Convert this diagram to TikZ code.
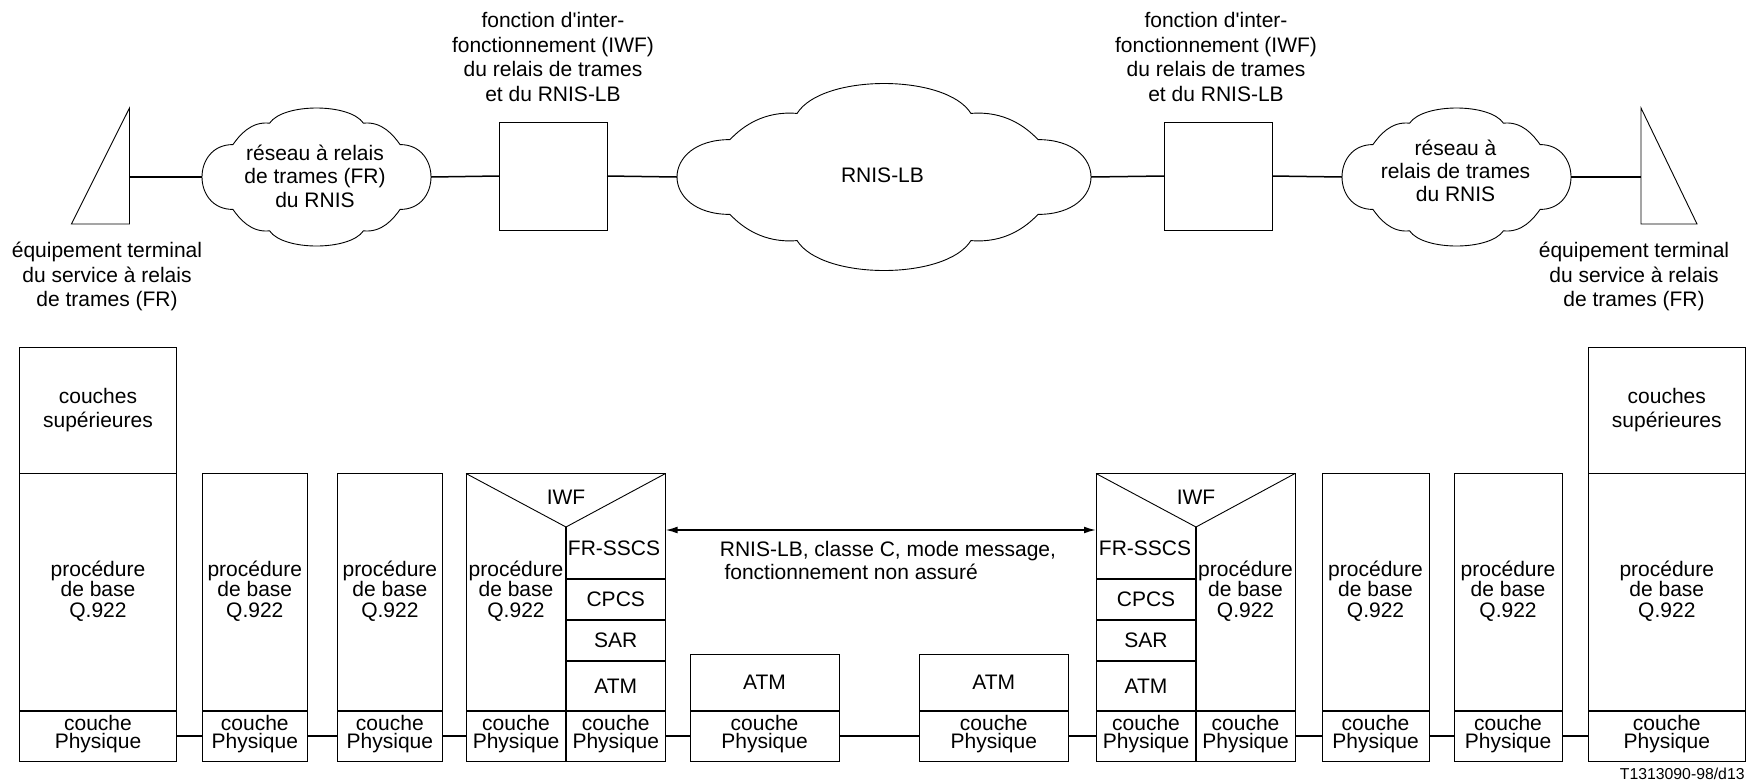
\documentclass[tikz,border=0pt]{standalone}
\usepackage{fontspec}
\setmainfont{Liberation Sans}[Ligatures=TeXOff]
\usetikzlibrary{arrows.meta}

% font sizes and line spacings
\newcommand\labfont{\fontsize{10.5}{12.2}\selectfont}
\newcommand\cloudfont{\fontsize{10.5}{11.9}\selectfont}
\newcommand\cloudfontb{\fontsize{10.5}{11.3}\selectfont}
\newcommand\cellfont{\fontsize{10.5}{10.25}\selectfont}
\newcommand\physfont{\fontsize{10.5}{8.8}\selectfont}
\newcommand\notefont{\fontsize{10.5}{11.7}\selectfont}
\newcommand\reffont{\fontsize{7.9}{9}\selectfont}

% invisible struts that lower a centred text block slightly
\newcommand\proclow{\rule[-3.3pt]{0pt}{0pt}}
\newcommand\physlow{\rule[-4.2pt]{0pt}{0pt}}
\newcommand\proctext{procédure\\de base\\Q.922\proclow}
\newcommand\phystext{couche\\Physique\physlow}

% \cellat{style}{name}{x1}{y1}{x2}{y2}{text}: rectangular layer cell, y measured downwards
\newcommand\cellat[7]{%
  \node[cell,#1,minimum width={(#5-#3)*0.5pt},minimum height={(#6-#4)*0.5pt}] (#2) at (#3,-#4) {#7};}

% \cloudoutline{cx}{cy}{a}{b}{p}{q}{r}{s}: cloud of half-width a, half-height b,
% outer notches at (+-p,+-q), inner notches at (+-r,+-s) in units of a and b
\newcommand\cloudoutline[8]{%
  \begin{scope}[shift={(#1,-#2)},xscale=#3,yscale=#4]
    \pgfmathsetmacro\cxb{(1-0.25*#5)/0.75}
    \pgfmathsetmacro\ycb{(1-0.25*#8)/0.75}
    \draw[thinline] (-#5,-#6)
      .. controls (-\cxb,-#6) and (-\cxb,#6) .. (-#5,#6)
      .. controls ({-#5+0.06},{#6+0.14}) and ({-#7-0.16},{#8+0.03}) .. (-#7,#8)
      .. controls ({-#7+0.12},\ycb) and ({#7-0.12},\ycb) .. (#7,#8)
      .. controls ({#7+0.16},{#8+0.03}) and ({#5-0.06},{#6+0.14}) .. (#5,#6)
      .. controls (\cxb,#6) and (\cxb,-#6) .. (#5,-#6)
      .. controls ({#5-0.06},{-#6-0.14}) and ({#7+0.16},{-#8-0.03}) .. (#7,-#8)
      .. controls ({#7-0.12},-\ycb) and ({-#7+0.12},-\ycb) .. (-#7,-#8)
      .. controls ({-#7-0.16},{-#8-0.03}) and ({-#5+0.06},{-#6-0.14}) .. (-#5,-#6)
      -- cycle;
  \end{scope}}

\tikzset{
  thinline/.style={line width=0.45pt},
  link/.style={line width=0.75pt},
  divider/.style={line width=0.8pt},
  cell/.style={draw,line width=0.45pt,rectangle,inner sep=1pt,outer sep=0pt,
    anchor=north west,align=center,font=\labfont},
  procsty/.style={font=\cellfont},
  physsty/.style={font=\physfont},
  hollow/.style={draw=none},
  lbl/.style={inner sep=0pt,align=center,font=\labfont},
  arr/.style={line width=0.75pt,{Latex[length=6pt,width=3.4pt]}-{Latex[length=6pt,width=3.4pt]}},
}

\begin{document}
\begin{tikzpicture}[x=0.5pt,y=0.5pt]
\fill[white] (0,0) rectangle (1749,-782);
\useasboundingbox (0,0) rectangle (1749,-782);

% ---------------- network view ----------------
% terminals
\draw[thinline] (129.5,-108) -- (129.5,-224) -- (71.4,-224) -- cycle;
\draw[thinline] (1641,-108) -- (1641,-224) -- (1697,-224) -- cycle;
\coordinate (termL) at (129.5,-177);
\coordinate (termR) at (1641,-177);
\node[lbl] (termLtxt) at (107,-276.8) {équipement terminal\\du service à relais\\de trames (FR)};
\node[lbl] (termRtxt) at (1634,-276.8) {équipement terminal\\du service à relais\\de trames (FR)};

% clouds
\cloudoutline{316.5}{177}{114.5}{69}{0.73}{0.47}{0.41}{0.78}
\cloudoutline{884}{177}{207}{93.5}{0.744}{0.40}{0.42}{0.68}
\cloudoutline{1456.5}{177}{114.5}{69}{0.73}{0.47}{0.41}{0.78}
\coordinate (cloudLw) at (202,-177);
\coordinate (cloudLe) at (431,-177);
\coordinate (cloudCw) at (677,-177);
\coordinate (cloudCe) at (1091,-177);
\coordinate (cloudRw) at (1342,-177);
\coordinate (cloudRe) at (1571,-177);
\node[lbl,font=\cloudfont] (cloudLtxt) at (315,-176.3) {réseau à relais\\de trames (FR)\\du RNIS};
\node[lbl,anchor=base] (cloudCtxt) at (882.5,-182.7) {RNIS-LB};
\node[lbl,font=\cloudfontb] (cloudRtxt) at (1455.5,-170.9) {réseau à\\relais de trames\\du RNIS};

% interworking functions
\node[draw,thinline,rectangle,inner sep=0pt,outer sep=0pt,minimum width=54pt,minimum height=54pt] (fnL) at (553,-176) {};
\node[draw,thinline,rectangle,inner sep=0pt,outer sep=0pt,minimum width=54pt,minimum height=54pt] (fnR) at (1218,-176) {};
\node[lbl] (fnLtxt) at (553,-57) {fonction d'inter-\\fonctionnement (IWF)\\du relais de trames\\et du RNIS-LB};
\node[lbl] (fnRtxt) at (1216,-57) {fonction d'inter-\\fonctionnement (IWF)\\du relais de trames\\et du RNIS-LB};

\draw[link] (termL) -- (cloudLw);
\draw[link] (cloudLe) -- (fnL.west);
\draw[link] (fnL.east) -- (cloudCw);
\draw[link] (cloudCe) -- (fnR.west);
\draw[link] (fnR.east) -- (cloudRw);
\draw[link] (cloudRe) -- (termR);

% ---------------- protocol stacks ----------------
% terminal stack, left
\cellat{}{b1a}{19.5}{347}{176.5}{473.5}{couches\\supérieures}
\cellat{procsty}{b1b}{19.5}{473.5}{176.5}{711}{\proctext}
\cellat{physsty}{b1c}{19.5}{711}{176.5}{761}{\phystext}
\draw[divider] (b1a.south west) -- (b1a.south east);
\draw[divider] (b1b.south west) -- (b1b.south east);

% frame relay nodes, left
\cellat{procsty}{b2b}{202.3}{473.5}{307.3}{711}{\proctext}
\cellat{physsty}{b2c}{202.3}{711}{307.3}{761}{\phystext}
\draw[divider] (b2b.south west) -- (b2b.south east);
\cellat{procsty}{b3b}{337.3}{473.5}{442.4}{711}{\proctext}
\cellat{physsty}{b3c}{337.3}{711}{442.4}{761}{\phystext}
\draw[divider] (b3b.south west) -- (b3b.south east);

% IWF stack, left
\cellat{}{iwfL}{466}{473.5}{665.5}{761}{}
\coordinate (vL) at (566,-527);
\cellat{procsty,hollow}{iwfLproc}{466}{473.5}{566}{711}{\proctext}
\node[lbl,anchor=base] (iwfLname) at (566,-504) {IWF};
\node[lbl,anchor=base] (iwfLsscs) at (614,-555) {FR-SSCS};
\cellat{hollow}{iwfLcpcs}{566}{579}{665.5}{620}{CPCS}
\cellat{hollow}{iwfLsar}{566}{620}{665.5}{661}{SAR}
\cellat{hollow}{iwfLatm}{566}{661}{665.5}{711}{ATM}
\cellat{physsty,hollow}{iwfLphA}{466}{711}{566}{761}{\phystext}
\cellat{physsty,hollow}{iwfLphB}{566}{711}{665.5}{761}{\phystext}
\draw[thinline] (iwfL.north west) -- (vL) -- (iwfL.north east);
\draw[divider] (vL) -- (iwfLphA.south east);
\draw[divider] (iwfLphA.north west) -- (iwfLphB.north east);
\draw[divider] (iwfLcpcs.north west) -- (iwfLcpcs.north east);
\draw[divider] (iwfLsar.north west) -- (iwfLsar.north east);
\draw[divider] (iwfLatm.north west) -- (iwfLatm.north east);

% ATM switches
\cellat{}{atm1a}{690}{654}{839}{711}{ATM}
\cellat{physsty}{atm1b}{690}{711}{839}{761}{\phystext}
\draw[divider] (atm1a.south west) -- (atm1a.south east);
\cellat{}{atm2a}{919}{654}{1068.5}{711}{ATM}
\cellat{physsty}{atm2b}{919}{711}{1068.5}{761}{\phystext}
\draw[divider] (atm2a.south west) -- (atm2a.south east);

% IWF stack, right
\cellat{}{iwfR}{1096}{473.5}{1295}{761}{}
\coordinate (vR) at (1196,-527);
\node[lbl,anchor=base] (iwfRname) at (1196,-504) {IWF};
\node[lbl,anchor=base] (iwfRsscs) at (1145,-555) {FR-SSCS};
\cellat{hollow}{iwfRcpcs}{1096}{579}{1196}{620}{CPCS}
\cellat{hollow}{iwfRsar}{1096}{620}{1196}{661}{SAR}
\cellat{hollow}{iwfRatm}{1096}{661}{1196}{711}{ATM}
\cellat{procsty,hollow}{iwfRproc}{1196}{473.5}{1295}{711}{\proctext}
\cellat{physsty,hollow}{iwfRphA}{1096}{711}{1196}{761}{\phystext}
\cellat{physsty,hollow}{iwfRphB}{1196}{711}{1295}{761}{\phystext}
\draw[thinline] (iwfR.north west) -- (vR) -- (iwfR.north east);
\draw[divider] (vR) -- (iwfRphA.south east);
\draw[divider] (iwfRphA.north west) -- (iwfRphB.north east);
\draw[divider] (iwfRcpcs.north west) -- (iwfRcpcs.north east);
\draw[divider] (iwfRsar.north west) -- (iwfRsar.north east);
\draw[divider] (iwfRatm.north west) -- (iwfRatm.north east);

% frame relay nodes, right
\cellat{procsty}{b4b}{1322}{473.5}{1429}{711}{\proctext}
\cellat{physsty}{b4c}{1322}{711}{1429}{761}{\phystext}
\draw[divider] (b4b.south west) -- (b4b.south east);
\cellat{procsty}{b5b}{1454}{473.5}{1562}{711}{\proctext}
\cellat{physsty}{b5c}{1454}{711}{1562}{761}{\phystext}
\draw[divider] (b5b.south west) -- (b5b.south east);

% terminal stack, right
\cellat{}{b6a}{1588}{347}{1745.6}{473.5}{couches\\supérieures}
\cellat{procsty}{b6b}{1588}{473.5}{1745.6}{711}{\proctext}
\cellat{physsty}{b6c}{1588}{711}{1745.6}{761}{\phystext}
\draw[divider] (b6a.south west) -- (b6a.south east);
\draw[divider] (b6b.south west) -- (b6b.south east);

% physical links
\draw[link] (b1c.east) -- (b2c.west);
\draw[link] (b2c.east) -- (b3c.west);
\draw[link] (b3c.east) -- (iwfLphA.west);
\draw[link] (iwfLphB.east) -- (atm1b.west);
\draw[link] (atm1b.east) -- (atm2b.west);
\draw[link] (atm2b.east) -- (iwfRphA.west);
\draw[link] (iwfRphB.east) -- (b4c.west);
\draw[link] (b4c.east) -- (b5c.west);
\draw[link] (b5c.east) -- (b6c.west);

% B-ISDN service between the interworking functions
\draw[arr] ([yshift=-28.25pt]iwfL.north east) -- ([yshift=-28.25pt]iwfR.north west);
\node[lbl,align=left,anchor=north west,font=\notefont] (svc) at (719.5,-540.7)
  {RNIS-LB, classe C, mode message,\\\hspace*{2.3pt}fonctionnement non assuré};

\node[inner sep=0pt,anchor=base east,font=\reffont] (ref) at (1745,-779) {T1313090-98/d13};
\end{tikzpicture}
\end{document}
